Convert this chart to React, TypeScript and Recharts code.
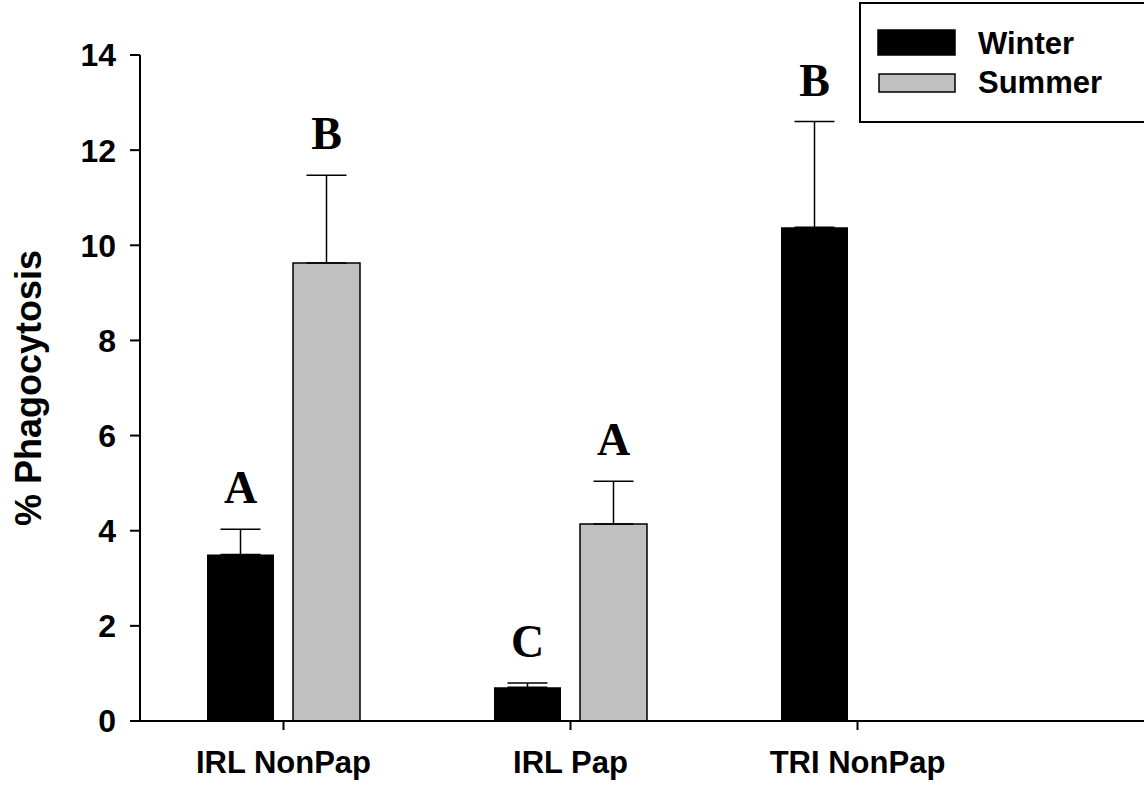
import React from "react";
import { BarChart, Bar, XAxis, YAxis, ErrorBar, LabelList } from "recharts";

// Mean % phagocytosis per site and season, with standard errors
const sites = ["IRL NonPap", "IRL Pap", "TRI NonPap"];
const winterMean = [3.5, 0.71, 10.38];
const winterSE = [0.53, 0.09, 2.22];
const summerMean: (number | null)[] = [9.63, 4.14, null];
const summerSE: (number | null)[] = [1.84, 0.9, null];

// Significance groupings shown above each bar
const winterLetters = ["A", "C", "B"];
const summerLetters: (string | null)[] = ["B", "A", null];

const seasons = ["Winter", "Summer"];
const seasonColors = ["#000000", "#c0c0c0"];

const yTicks = [0, 2, 4, 6, 8, 10, 12, 14];

const data = sites.map((site, i) => ({
  site,
  winter: winterMean[i],
  winterErr: [0, winterSE[i]],
  summer: summerMean[i],
  summerErr: summerSE[i] == null ? null : [0, summerSE[i]],
  winterLetter: winterLetters[i],
  summerLetter: summerLetters[i],
}));

const SANS = "'Liberation Sans', Arial, sans-serif";
const SERIF = "'Liberation Serif', 'Times New Roman', serif";

// Letter sits a fixed distance above the top of the error bar
const makeLetter = (means: (number | null)[], errs: (number | null)[]) => (props: any) => {
  const { x, y, width, height, value, index } = props;
  const mean = means[index];
  const err = errs[index];
  if (!value || mean == null || err == null) return null;
  const pxPerUnit = height / mean;
  const top = y - err * pxPerUnit;
  return (
    <text
      x={x + width / 2}
      y={top - 26}
      textAnchor="middle"
      fontFamily={SERIF}
      fontWeight={700}
      fontSize={46}
      fill="#000"
    >
      {value}
    </text>
  );
};

// Boxed legend in the top-right corner, drawn outside the chart so it
// doesn't eat into the plot area
function SeasonLegend() {
  const rows = [
    { swatch: { x: 19, y: 28, w: 77, h: 25 }, baseline: 52 },
    { swatch: { x: 20, y: 72, w: 76, h: 18 }, baseline: 91 },
  ];
  return (
    <svg
      width={300}
      height={122}
      style={{ position: "absolute", left: 859, top: 2, display: "block" }}
    >
      <rect x={1} y={1} width={320} height={119} fill="#fff" stroke="#000" strokeWidth={2} />
      {seasons.map((name, i) => {
        const r = rows[i];
        return (
          <g key={name}>
            <rect
              x={r.swatch.x}
              y={r.swatch.y}
              width={r.swatch.w}
              height={r.swatch.h}
              fill={seasonColors[i]}
              stroke="#000"
              strokeWidth={1.5}
            />
            <text x={119} y={r.baseline} fontFamily={SANS} fontWeight={700} fontSize={31} fill="#000">
              {name}
            </text>
          </g>
        );
      })}
    </svg>
  );
}

const renderYLabel = (props: any) => {
  const { viewBox } = props;
  const cx = viewBox.x + 41;
  const cy = viewBox.y + viewBox.height / 2;
  return (
    <text
      x={cx}
      y={cy}
      transform={`rotate(-90, ${cx}, ${cy})`}
      textAnchor="middle"
      fontFamily={SANS}
      fontWeight={700}
      fontSize={36}
      fill="#000"
    >
      % Phagocytosis
    </text>
  );
};

export default function App() {
  return (
    <div
      style={{
        position: "absolute",
        left: 0,
        top: 0,
        width: 1144,
        height: 786,
        overflow: "hidden",
        background: "#fff",
      }}
    >
      <BarChart
        width={1144}
        height={786}
        data={data}
        margin={{ top: 55, right: 0, left: 0, bottom: 0 }}
        barSize={67}
        barGap={19}
      >
        <XAxis
          dataKey="site"
          height={65}
          padding={{ left: 0, right: 143 }}
          axisLine={{ stroke: "#000", strokeWidth: 2 }}
          tickLine={{ stroke: "#000", strokeWidth: 2 }}
          tickSize={9}
          tickMargin={21}
          tick={{ fill: "#000", fontSize: 31, fontWeight: 700, fontFamily: SANS }}
        />
        <YAxis
          width={140}
          domain={[0, 14]}
          ticks={yTicks}
          interval={0}
          axisLine={{ stroke: "#000", strokeWidth: 2 }}
          tickLine={{ stroke: "#000", strokeWidth: 2 }}
          tickSize={10}
          tickMargin={14}
          tick={{ fill: "#000", fontSize: 32, fontWeight: 700, fontFamily: SANS }}
          label={{ content: renderYLabel }}
        />
        <Bar dataKey="winter" name={seasons[0]} fill={seasonColors[0]} isAnimationActive={false}>
          <ErrorBar dataKey="winterErr" width={20} stroke="#000" strokeWidth={1.5} direction="y" isAnimationActive={false} />
          <LabelList dataKey="winterLetter" content={makeLetter(winterMean, winterSE)} />
        </Bar>
        <Bar
          dataKey="summer"
          name={seasons[1]}
          fill={seasonColors[1]}
          stroke="#000"
          strokeWidth={1.5}
          isAnimationActive={false}
        >
          <ErrorBar dataKey="summerErr" width={20} stroke="#000" strokeWidth={1.5} direction="y" isAnimationActive={false} />
          <LabelList dataKey="summerLetter" content={makeLetter(summerMean, summerSE)} />
        </Bar>
      </BarChart>
      <SeasonLegend />
    </div>
  );
}
